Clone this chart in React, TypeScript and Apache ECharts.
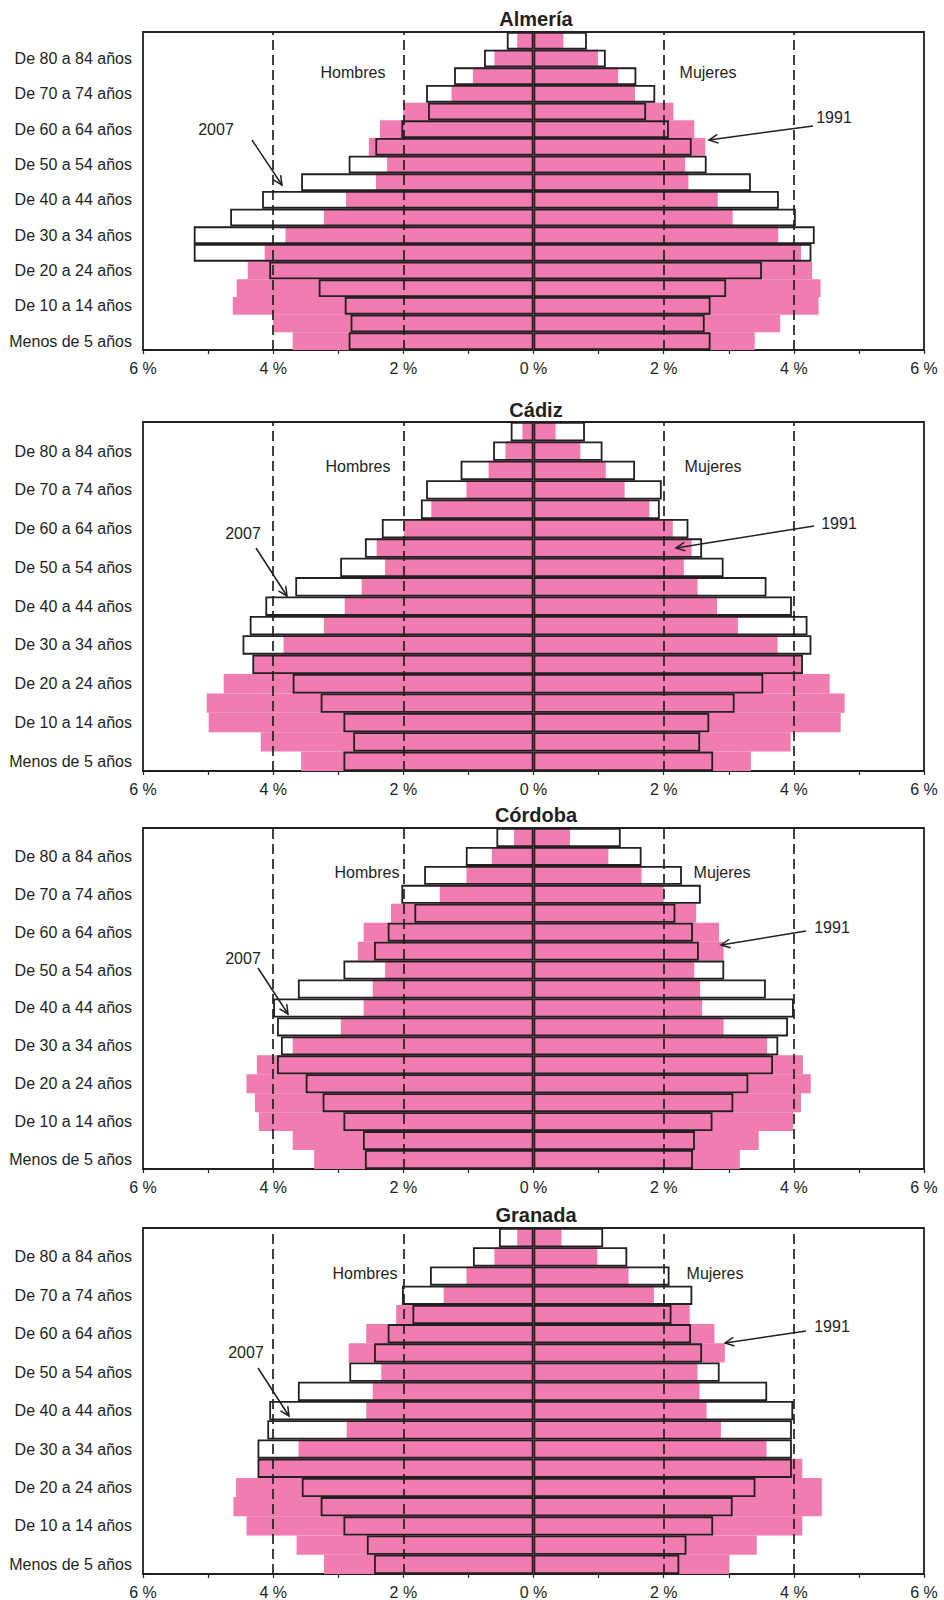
import React, { useEffect, useRef } from "react";
import * as echarts from "echarts";

// Age groups, bottom (youngest) to top (oldest)
const ageGroups = [
  "Menos de 5 años", "De 5 a 9 años", "De 10 a 14 años", "De 15 a 19 años",
  "De 20 a 24 años", "De 25 a 29 años", "De 30 a 34 años", "De 35 a 39 años",
  "De 40 a 44 años", "De 45 a 49 años", "De 50 a 54 años", "De 55 a 59 años",
  "De 60 a 64 años", "De 65 a 69 años", "De 70 a 74 años", "De 75 a 79 años",
  "De 80 a 84 años", "De 85 y más años",
];

const xTickValues = [-6, -4, -2, 0, 2, 4, 6];

// Almería (% of population)
const almeriaMen1991 = [3.70, 4.00, 4.62, 4.56, 4.39, 4.13, 3.81, 3.22, 2.88, 2.42, 2.25, 2.53, 2.36, 2.00, 1.26, 0.93, 0.60, 0.25];
const almeriaMen2007 = [2.84, 2.81, 2.90, 3.30, 4.06, 5.22, 5.22, 4.66, 4.17, 3.57, 2.84, 2.43, 2.03, 1.62, 1.65, 1.22, 0.76, 0.41];
const almeriaWomen1991 = [3.40, 3.79, 4.38, 4.41, 4.28, 4.11, 3.76, 3.06, 2.83, 2.38, 2.33, 2.64, 2.47, 2.15, 1.56, 1.30, 0.99, 0.46];
const almeriaWomen2007 = [2.72, 2.63, 2.72, 2.96, 3.51, 4.27, 4.32, 4.03, 3.77, 3.34, 2.66, 2.43, 2.08, 1.73, 1.87, 1.58, 1.11, 0.82];

// Cádiz
const cadizMen1991 = [3.57, 4.19, 4.99, 5.02, 4.76, 4.30, 3.84, 3.22, 2.90, 2.64, 2.28, 2.41, 1.99, 1.57, 1.03, 0.69, 0.43, 0.17];
const cadizMen2007 = [2.92, 2.77, 2.92, 3.27, 3.70, 4.32, 4.47, 4.36, 4.12, 3.66, 2.97, 2.59, 2.33, 1.73, 1.65, 1.12, 0.62, 0.35];
const cadizWomen1991 = [3.34, 3.95, 4.72, 4.78, 4.55, 4.12, 3.75, 3.14, 2.82, 2.52, 2.31, 2.43, 2.14, 1.78, 1.40, 1.11, 0.72, 0.34];
const cadizWomen2007 = [2.76, 2.56, 2.70, 3.09, 3.53, 4.14, 4.27, 4.21, 3.97, 3.58, 2.92, 2.59, 2.38, 1.94, 1.97, 1.56, 1.06, 0.79];

// Córdoba
const cordobaMen1991 = [3.37, 3.70, 4.22, 4.28, 4.41, 4.25, 3.70, 2.96, 2.61, 2.47, 2.28, 2.70, 2.61, 2.19, 1.44, 1.03, 0.64, 0.30];
const cordobaMen2007 = [2.59, 2.62, 2.92, 3.24, 3.50, 3.94, 3.88, 3.94, 4.00, 3.62, 2.92, 2.45, 2.24, 1.83, 2.03, 1.68, 1.04, 0.57];
const cordobaWomen1991 = [3.17, 3.46, 3.99, 4.11, 4.26, 4.14, 3.59, 2.92, 2.59, 2.56, 2.47, 2.92, 2.85, 2.50, 2.00, 1.66, 1.15, 0.56];
const cordobaWomen2007 = [2.45, 2.48, 2.75, 3.07, 3.30, 3.68, 3.76, 3.91, 4.00, 3.57, 2.93, 2.54, 2.45, 2.18, 2.57, 2.28, 1.66, 1.34];

// Granada
const granadaMen1991 = [3.22, 3.64, 4.41, 4.61, 4.57, 4.22, 3.61, 2.87, 2.57, 2.47, 2.34, 2.84, 2.57, 2.11, 1.38, 1.03, 0.60, 0.25];
const granadaMen2007 = [2.45, 2.56, 2.92, 3.27, 3.56, 4.24, 4.24, 4.09, 4.06, 3.62, 2.83, 2.45, 2.24, 1.86, 2.02, 1.59, 0.93, 0.53];
const granadaWomen1991 = [3.01, 3.43, 4.13, 4.43, 4.43, 4.13, 3.58, 2.88, 2.66, 2.55, 2.52, 2.94, 2.78, 2.40, 1.85, 1.46, 0.98, 0.43];
const granadaWomen2007 = [2.24, 2.35, 2.76, 3.06, 3.41, 3.97, 3.97, 3.97, 3.99, 3.59, 2.86, 2.59, 2.42, 2.12, 2.44, 2.09, 1.44, 1.07];

const provinceNames = ["Almería", "Cádiz", "Córdoba", "Granada"];
const menLabel = "Hombres";
const womenLabel = "Mujeres";
const label2007 = "2007";
const label1991 = "1991";

const panelsData = [
  { m91: almeriaMen1991, m07: almeriaMen2007, f91: almeriaWomen1991, f07: almeriaWomen2007 },
  { m91: cadizMen1991, m07: cadizMen2007, f91: cadizWomen1991, f07: cadizWomen2007 },
  { m91: cordobaMen1991, m07: cordobaMen2007, f91: cordobaWomen1991, f07: cordobaWomen2007 },
  { m91: granadaMen1991, m07: granadaMen2007, f91: granadaWomen1991, f07: granadaWomen2007 },
];

// Layout (pixels)
const layout = [
  { top: 32, height: 318, titleY: 19, hom: [353, 72], muj: [708, 72], t07: [216, 129], a07: [252, 140, 282, 185], t91: [834, 117], a91: [813, 126, 709, 140] },
  { top: 422, height: 349, titleY: 410, hom: [358, 466], muj: [713, 466], t07: [243, 533], a07: [256, 548, 287, 596], t91: [839, 523], a91: [814, 526, 676, 548] },
  { top: 828, height: 341, titleY: 815, hom: [367, 872], muj: [722, 872], t07: [243, 958], a07: [258, 968, 288, 1014], t91: [832, 927], a91: [806, 931, 721, 945] },
  { top: 1228, height: 350, titleY: 1215, hom: [365, 1273], muj: [715, 1273], t07: [246, 1352], a07: [258, 1368, 289, 1416], t91: [832, 1326], a91: [806, 1331, 725, 1343] },
];

const INK = "#231f20";
const PINK = "#F07CB0";
const FONT = "'Liberation Sans', Arial, Helvetica, sans-serif";

function textEl(text: string, x: number, y: number, size: number, bold = false) {
  return {
    type: "text",
    x,
    y,
    z: 100,
    style: {
      text,
      fill: INK,
      font: `${bold ? "bold " : ""}${size}px ${FONT}`,
      textAlign: "center",
      textVerticalAlign: "middle",
      align: "center",
      verticalAlign: "middle",
    },
  };
}

function arrowEls(a: number[]) {
  const [x1, y1, x2, y2] = a;
  const ang = Math.atan2(y2 - y1, x2 - x1);
  const len = 10;
  const spread = Math.PI / 7;
  const p1 = [x2 - len * Math.cos(ang - spread), y2 - len * Math.sin(ang - spread)];
  const p2 = [x2 - len * Math.cos(ang + spread), y2 - len * Math.sin(ang + spread)];
  return [
    { type: "line", z: 100, shape: { x1, y1, x2, y2 }, style: { stroke: INK, lineWidth: 1.5 } },
    { type: "polyline", z: 100, shape: { points: [p1, [x2, y2], p2] }, style: { stroke: INK, lineWidth: 1.5, fill: "none" } },
  ];
}

export default function App() {
  const ref = useRef<HTMLDivElement>(null);

  useEffect(() => {
    if (!ref.current) return;
    const chart = echarts.init(ref.current, null, { renderer: "svg" });

    const grids: any[] = [];
    const xAxes: any[] = [];
    const yAxes: any[] = [];
    const series: any[] = [];
    const graphics: any[] = [];

    panelsData.forEach((p, i) => {
      const L = layout[i];
      grids.push({
        left: 143,
        width: 781,
        top: L.top,
        height: L.height,
        show: true,
        borderColor: INK,
        borderWidth: 1.8,
        backgroundColor: "transparent",
      });
      xAxes.push({
        type: "value",
        gridIndex: i,
        min: -6,
        max: 6,
        interval: 1,
        axisLine: { show: true, onZero: false, lineStyle: { color: INK, width: 1.8 } },
        axisTick: { show: true, length: 4, lineStyle: { color: INK, width: 1.2 } },
        axisLabel: {
          color: INK,
          fontSize: 16,
          fontFamily: FONT,
          margin: 10,
          showMinLabel: true,
          showMaxLabel: true,
          formatter: (v: number) => (xTickValues.indexOf(v) >= 0 ? `${Math.abs(v)} %` : ""),
        },
        splitLine: { show: false },
      });
      yAxes.push({
        type: "category",
        gridIndex: i,
        data: ageGroups,
        axisLine: { show: false },
        axisTick: { show: false },
        splitLine: { show: false },
        axisLabel: { interval: 1, color: INK, fontSize: 16, fontFamily: FONT, margin: 11, padding: [0, 0, 4, 0] },
      });

      series.push({
        type: "line",
        xAxisIndex: i,
        yAxisIndex: i,
        data: [],
        z: 1,
        silent: true,
        markLine: {
          silent: true,
          symbol: ["none", "none"],
          label: { show: false },
          lineStyle: { type: [10, 5], color: INK, width: 1.7 },
          data: [{ xAxis: -4 }, { xAxis: -2 }, { xAxis: 2 }, { xAxis: 4 }],
        },
      });

      const barCommon = {
        type: "bar",
        xAxisIndex: i,
        yAxisIndex: i,
        barGap: "-100%",
        barCategoryGap: "0%",
        silent: true,
      };
      series.push({ ...barCommon, name: `${provinceNames[i]} H 1991`, z: 2, data: p.m91.map((v) => -v), itemStyle: { color: PINK } });
      series.push({ ...barCommon, name: `${provinceNames[i]} M 1991`, z: 2, data: p.f91.map((v) => v), itemStyle: { color: PINK } });
      const outline = { color: "rgba(0,0,0,0)", borderColor: INK, borderWidth: 1.8 };
      series.push({ ...barCommon, name: `${provinceNames[i]} H 2007`, z: 3, data: p.m07.map((v) => -v), itemStyle: outline });
      series.push({ ...barCommon, name: `${provinceNames[i]} M 2007`, z: 3, data: p.f07.map((v) => v), itemStyle: outline });

      graphics.push(textEl(provinceNames[i], 536, L.titleY, 20, true));
      graphics.push(textEl(menLabel, L.hom[0], L.hom[1], 16));
      graphics.push(textEl(womenLabel, L.muj[0], L.muj[1], 16));
      graphics.push(textEl(label2007, L.t07[0], L.t07[1], 16));
      graphics.push(textEl(label1991, L.t91[0], L.t91[1], 16));
      graphics.push(...arrowEls(L.a07));
      graphics.push(...arrowEls(L.a91));
    });

    chart.setOption({
      animation: false,
      backgroundColor: "#ffffff",
      textStyle: { fontFamily: FONT },
      grid: grids,
      xAxis: xAxes,
      yAxis: yAxes,
      series,
      graphic: { elements: graphics },
    });

    return () => chart.dispose();
  }, []);

  return (
    <div
      ref={ref}
      style={{ position: "absolute", left: 0, top: 0, width: 944, height: 1600, background: "#fff" }}
    />
  );
}
